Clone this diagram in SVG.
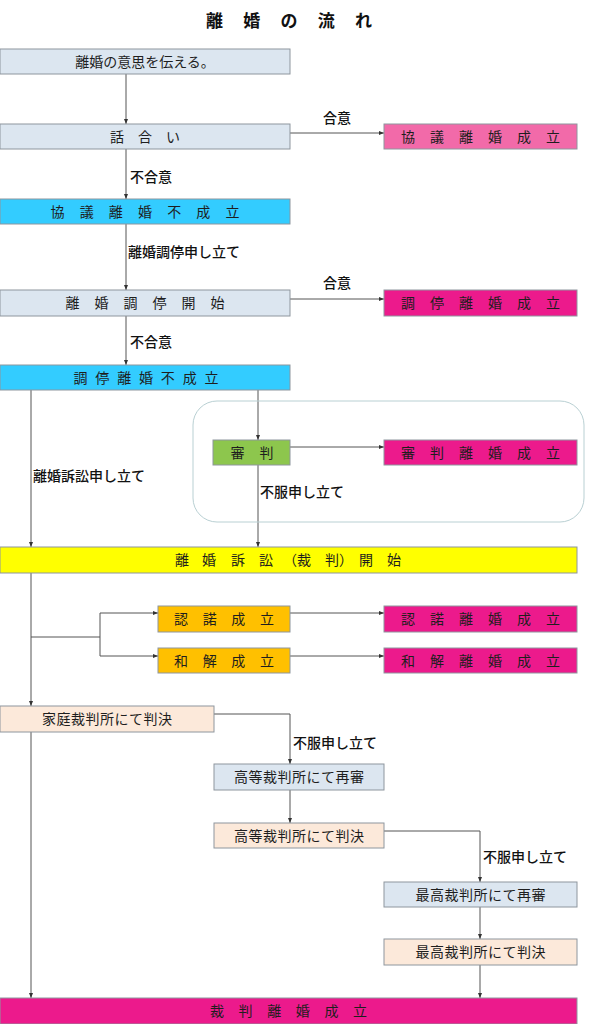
<svg xmlns="http://www.w3.org/2000/svg" width="593" height="1024" viewBox="0 0 593 1024">
<style>
.bx{stroke:#8e969e;stroke-width:1}
.blue{fill:#dce6f0}
.cyan{fill:#33ccff}
.pink1{fill:#f26aa9}
.mag{fill:#ec1a8c}
.green{fill:#8dc64d}
.yel{fill:#ffff00}
.org{fill:#ffc000}
.peach{fill:#fce9da}
.t{font-family:"Liberation Serif","Noto Sans CJK JP",serif;font-size:14px;fill:#1e1e1e;text-anchor:middle}
.lb{font-family:"Noto Sans CJK JP",sans-serif;font-size:14px;font-weight:500;fill:#111}
.ln{fill:none;stroke:#555;stroke-width:1}
</style>
<defs>
<marker id="ah" markerWidth="5" markerHeight="4" refX="5" refY="2" orient="auto" markerUnits="userSpaceOnUse">
<path d="M0,0 L5,2 L0,4 Z" fill="#333"/>
</marker>
</defs>
<rect width="593" height="1024" fill="#ffffff"/>
<text id="title" x="289" y="27" style="font-family:'Noto Sans CJK JP',sans-serif;font-size:17px;font-weight:bold;fill:#111;text-anchor:middle" textLength="166" lengthAdjust="spacing">離婚の流れ</text>

<g id="connectors">
<path class="ln" d="M126,74V124" marker-end="url(#ah)"/>
<path class="ln" d="M290,133H384" marker-end="url(#ah)"/>
<path class="ln" d="M126,149V199" marker-end="url(#ah)"/>
<path class="ln" d="M126,224V290" marker-end="url(#ah)"/>
<path class="ln" d="M290,299H384" marker-end="url(#ah)"/>
<path class="ln" d="M126,316V365" marker-end="url(#ah)"/>
<path class="ln" d="M31,390V547" marker-end="url(#ah)"/>
<path class="ln" d="M258,390V440" marker-end="url(#ah)"/>
<path class="ln" d="M290,447H384" marker-end="url(#ah)"/>
<path class="ln" d="M258,465V547" marker-end="url(#ah)"/>
<path class="ln" d="M31,573V706" marker-end="url(#ah)"/>
<path class="ln" d="M31,637H100M100,613V656"/>
<path class="ln" d="M100,613H158" marker-end="url(#ah)"/>
<path class="ln" d="M100,656H158" marker-end="url(#ah)"/>
<path class="ln" d="M290,613H384" marker-end="url(#ah)"/>
<path class="ln" d="M290,656H384" marker-end="url(#ah)"/>
<path class="ln" d="M214,714H290V764" marker-end="url(#ah)"/>
<path class="ln" d="M290,790V823" marker-end="url(#ah)"/>
<path class="ln" d="M384,831H480V882" marker-end="url(#ah)"/>
<path class="ln" d="M480,907V939" marker-end="url(#ah)"/>
<path class="ln" d="M480,965V998" marker-end="url(#ah)"/>
<path class="ln" d="M31,732V998" marker-end="url(#ah)"/>
<text class="lb" x="323" y="123">合意</text>
<text class="lb" x="130" y="182">不合意</text>
<text class="lb" x="128" y="257">離婚調停申し立て</text>
<text class="lb" x="323" y="288">合意</text>
<text class="lb" x="130" y="347">不合意</text>
<text class="lb" x="33" y="481">離婚訴訟申し立て</text>
<text class="lb" x="260" y="497">不服申し立て</text>
<text class="lb" x="293" y="748">不服申し立て</text>
<text class="lb" x="483" y="862">不服申し立て</text>
</g>

<g id="group-shinpan">
<rect x="193" y="401" width="391" height="121" rx="24" fill="none" stroke="#b9d0d3" stroke-width="1"/>
</g>

<g id="n1"><rect class="bx blue" x="0" y="49" width="290" height="25"/><text class="t" x="145" y="66.5">離婚の意思を伝える。</text></g>
<g id="n2"><rect class="bx blue" x="0" y="124" width="290" height="25"/><text class="t" x="145" y="141.5" textLength="70" lengthAdjust="spacing">話合い</text></g>
<g id="n3"><rect class="bx pink1" x="384" y="124" width="193" height="25"/><text class="t" x="480.5" y="141.5" textLength="159" lengthAdjust="spacing">協議離婚成立</text></g>
<g id="n4"><rect class="bx cyan" x="0" y="199" width="290" height="25"/><text class="t" x="145" y="216.5" textLength="189" lengthAdjust="spacing">協議離婚不成立</text></g>
<g id="n5"><rect class="bx blue" x="0" y="290" width="290" height="26"/><text class="t" x="145" y="308" textLength="159" lengthAdjust="spacing">離婚調停開始</text></g>
<g id="n6"><rect class="bx mag" x="384" y="290" width="193" height="26"/><text class="t" x="480.5" y="308" textLength="159" lengthAdjust="spacing">調停離婚成立</text></g>
<g id="n7"><rect class="bx cyan" x="0" y="365" width="290" height="25"/><text class="t" x="146" y="382.5" textLength="145" lengthAdjust="spacing">調停離婚不成立</text></g>
<g id="n8"><rect class="bx green" x="213" y="440" width="77" height="25"/><text class="t" x="252" y="457.5" textLength="43" lengthAdjust="spacing">審判</text></g>
<g id="n9"><rect class="bx mag" x="384" y="440" width="193" height="25"/><text class="t" x="480.5" y="457.5" textLength="159" lengthAdjust="spacing">審判離婚成立</text></g>
<g id="n10"><rect class="bx yel" x="0" y="547" width="577" height="26"/><text class="t" style="text-anchor:start" x="175 202 231 259 283 297 325 339 359 387" y="565">離婚訴訟（裁判）開始</text></g>
<g id="n11"><rect class="bx org" x="158" y="606" width="132" height="26"/><text class="t" x="224" y="624" textLength="100" lengthAdjust="spacing">認諾成立</text></g>
<g id="n12"><rect class="bx mag" x="384" y="606" width="193" height="26"/><text class="t" x="480.5" y="624" textLength="159" lengthAdjust="spacing">認諾離婚成立</text></g>
<g id="n13"><rect class="bx org" x="158" y="648" width="132" height="25"/><text class="t" x="224" y="665.5" textLength="100" lengthAdjust="spacing">和解成立</text></g>
<g id="n14"><rect class="bx mag" x="384" y="648" width="193" height="25"/><text class="t" x="480.5" y="665.5" textLength="159" lengthAdjust="spacing">和解離婚成立</text></g>
<g id="n15"><rect class="bx peach" x="0" y="706" width="214" height="26"/><text class="t" x="107" y="724" textLength="130" lengthAdjust="spacing">家庭裁判所にて判決</text></g>
<g id="n16"><rect class="bx blue" x="214" y="764" width="170" height="26"/><text class="t" x="299" y="782" textLength="130" lengthAdjust="spacing">高等裁判所にて再審</text></g>
<g id="n17"><rect class="bx peach" x="214" y="823" width="170" height="25"/><text class="t" x="299" y="840.5" textLength="130" lengthAdjust="spacing">高等裁判所にて判決</text></g>
<g id="n18"><rect class="bx blue" x="384" y="882" width="193" height="25"/><text class="t" x="480.5" y="899.5" textLength="130" lengthAdjust="spacing">最高裁判所にて再審</text></g>
<g id="n19"><rect class="bx peach" x="384" y="939" width="193" height="26"/><text class="t" x="480.5" y="957" textLength="130" lengthAdjust="spacing">最高裁判所にて判決</text></g>
<g id="n20"><rect class="bx mag" x="0" y="998" width="577" height="26"/><text class="t" x="288.5" y="1016" textLength="157" lengthAdjust="spacing">裁判離婚成立</text></g>
</svg>
